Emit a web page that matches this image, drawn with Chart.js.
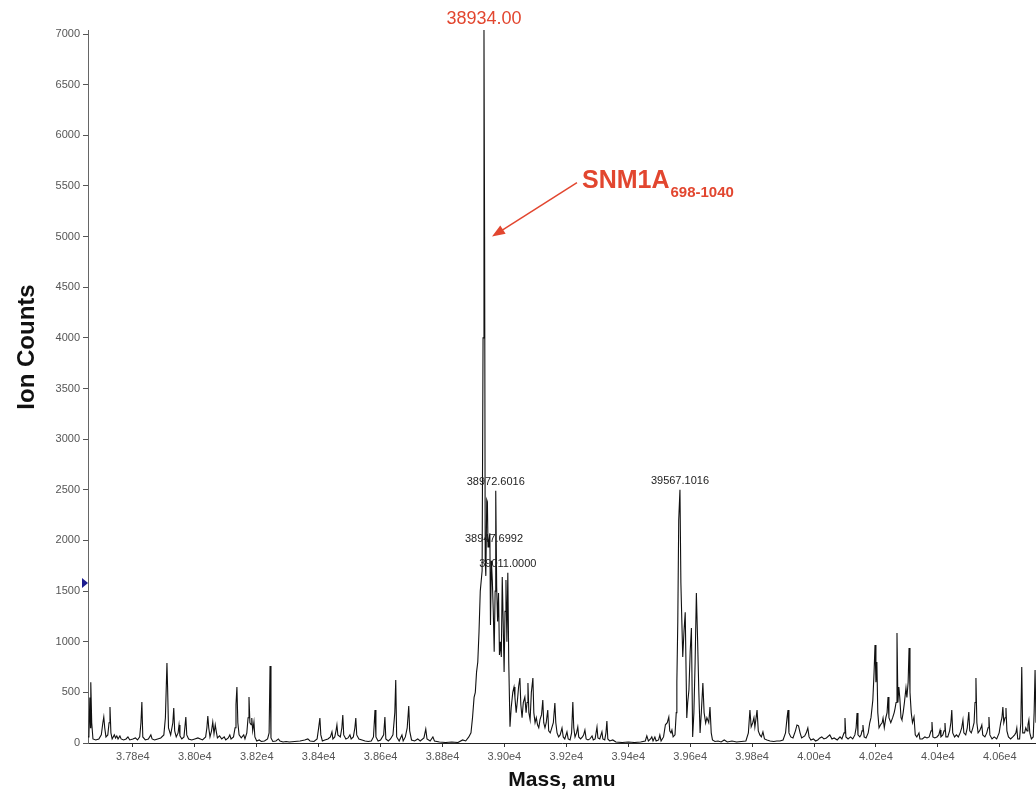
<!DOCTYPE html>
<html>
<head>
<meta charset="utf-8">
<title>SNM1A mass spectrum</title>
<script src="https://cdn.jsdelivr.net/npm/chart.js@4.4.1/dist/chart.umd.min.js"></script>
<style>
  html, body { margin: 0; padding: 0; background: #fff; }
</style>
</head>
<body>
<canvas id="chart" width="1036" height="794"></canvas>
<script>
// reconstructed spectrum, [mass (amu), ion counts]
const spectrum = [
  [37655,60],[37658,80],[37661,450],[37663,150],[37664,600],[37667,200],[37671,40],[37680,30],[37690,40],[37698,80],
  [37703,200],[37706,257],[37709,150],[37713,60],[37719,80],[37723,200],[37726,355],[37729,100],[37733,40],[37740,80],
  [37744,50],[37748,70],[37752,40],[37758,70],[37762,40],[37770,30],[37778,40],[37784,60],[37790,30],[37800,40],
  [37808,50],[37815,30],[37822,60],[37826,200],[37829,405],[37832,60],[37840,30],[37850,40],[37858,80],[37862,40],
  [37870,30],[37880,40],[37890,50],[37900,80],[37905,250],[37910,790],[37912,560],[37915,150],[37922,80],[37929,200],
  [37932,345],[37935,120],[37940,60],[37946,100],[37949,178],[37952,70],[37958,40],[37965,60],[37971,257],[37974,80],
  [37980,40],[37990,30],[38000,40],[38010,50],[38018,40],[38025,30],[38035,60],[38039,150],[38042,267],[38045,150],
  [38049,60],[38054,120],[38058,207],[38062,90],[38066,180],[38069,120],[38073,50],[38080,70],[38087,40],[38095,60],
  [38100,30],[38108,50],[38113,80],[38117,40],[38125,60],[38130,150],[38133,380],[38136,553],[38139,200],[38143,80],
  [38150,50],[38158,80],[38162,40],[38168,100],[38172,250],[38175,454],[38178,200],[38182,180],[38184,247],[38187,120],
  [38191,207],[38194,60],[38200,20],[38208,30],[38215,15],[38225,20],[38235,40],[38240,100],[38243,760],[38246,50],
  [38252,15],[38262,20],[38270,40],[38275,20],[38285,10],[38295,15],[38305,10],[38340,20],[38355,30],[38365,40],
  [38372,20],[38385,15],[38395,40],[38400,150],[38404,247],[38407,80],[38412,20],[38420,30],[38430,40],[38438,60],
  [38443,110],[38446,40],[38452,60],[38456,120],[38459,178],[38462,80],[38470,60],[38475,150],[38478,276],[38481,80],
  [38488,40],[38495,50],[38501,80],[38505,40],[38512,60],[38517,150],[38520,247],[38523,80],[38530,40],[38540,30],
  [38550,20],[38560,15],[38570,20],[38577,60],[38582,326],[38585,60],[38592,20],[38600,30],[38610,80],[38614,257],
  [38617,40],[38625,20],[38632,40],[38640,80],[38646,300],[38649,622],[38652,60],[38660,20],[38669,80],[38673,20],
  [38680,60],[38686,150],[38691,365],[38694,120],[38700,30],[38710,20],[38720,40],[38728,20],[38740,50],[38746,138],
  [38750,40],[38760,20],[38769,60],[38774,20],[38790,10],[38810,5],[38830,10],[38850,5],[38865,30],[38875,20],
  [38885,60],[38892,100],[38897,250],[38902,450],[38906,500],[38910,700],[38914,800],[38918,1100],[38922,1500],[38925,1600],
  [38928,1700],[38931,4000],[38934,7040],[38936,5000],[38938,1800],[38940,1650],[38943,2400],[38945,2380],[38947,1935],[38950,2000],
  [38953,2070],[38955,1165],[38958,1800],[38961,1600],[38964,1300],[38967,900],[38970,1500],[38972,2490],[38975,1540],[38978,1200],
  [38981,1480],[38984,870],[38987,1000],[38990,850],[38993,1640],[38996,1200],[38999,700],[39002,1300],[39005,1610],[39008,1000],
  [39011,1680],[39014,800],[39018,160],[39022,350],[39027,500],[39031,553],[39034,450],[39038,300],[39042,420],[39046,560],
  [39050,641],[39053,380],[39057,250],[39061,400],[39066,454],[39070,300],[39073,400],[39076,592],[39079,300],[39083,230],
  [39087,500],[39092,641],[39095,300],[39099,200],[39103,250],[39107,180],[39111,150],[39115,230],[39120,280],[39124,424],
  [39127,200],[39131,150],[39135,200],[39140,326],[39143,120],[39148,100],[39153,150],[39158,200],[39163,395],[39166,200],
  [39170,100],[39175,60],[39180,80],[39186,148],[39190,60],[39195,40],[39202,110],[39206,40],[39212,30],[39217,100],
  [39221,405],[39224,150],[39228,60],[39233,100],[39237,158],[39240,60],[39246,40],[39252,60],[39256,80],[39260,128],
  [39264,40],[39270,30],[39276,40],[39283,70],[39287,30],[39293,40],[39299,158],[39302,50],[39308,40],[39315,110],
  [39318,40],[39324,30],[39328,100],[39331,217],[39334,40],[39340,20],[39350,30],[39360,10],[39380,5],[39400,10],
  [39420,5],[39440,10],[39455,20],[39460,70],[39465,20],[39472,40],[39476,60],[39480,20],[39486,60],[39490,20],
  [39498,30],[39502,80],[39506,20],[39514,60],[39520,180],[39526,200],[39531,257],[39534,120],[39538,100],[39541,128],
  [39545,60],[39551,80],[39555,300],[39557,600],[39560,1200],[39563,2200],[39567,2500],[39570,1580],[39573,1215],[39576,850],
  [39580,1100],[39584,1290],[39589,247],[39592,400],[39596,523],[39600,900],[39604,1135],[39608,60],[39612,300],[39616,800],
  [39620,1480],[39624,1015],[39628,500],[39632,100],[39636,300],[39641,592],[39645,300],[39650,197],[39654,250],[39660,200],
  [39664,355],[39668,100],[39672,30],[39680,15],[39690,20],[39700,10],[39710,30],[39720,10],[39735,20],[39750,10],
  [39765,15],[39780,20],[39788,100],[39793,326],[39797,160],[39802,200],[39806,250],[39809,158],[39813,250],[39816,326],
  [39820,120],[39825,80],[39830,60],[39835,110],[39840,40],[39848,30],[39858,20],[39870,15],[39880,20],[39890,20],
  [39900,30],[39908,100],[39913,250],[39916,326],[39919,100],[39925,60],[39932,50],[39940,120],[39945,178],[39950,170],
  [39955,100],[39960,50],[39970,70],[39975,100],[39980,148],[39984,60],[39990,30],[39998,40],[40005,20],[40012,30],
  [40019,50],[40025,60],[40032,40],[40040,50],[40051,80],[40058,40],[40065,50],[40075,30],[40084,60],[40090,40],
  [40097,100],[40100,247],[40103,60],[40110,40],[40118,60],[40125,40],[40132,80],[40136,150],[40139,296],[40142,80],
  [40148,60],[40152,80],[40155,120],[40158,178],[40162,60],[40168,50],[40175,100],[40180,200],[40184,250],[40190,424],
  [40194,700],[40197,967],[40200,600],[40203,800],[40206,300],[40210,150],[40215,180],[40220,200],[40223,247],[40227,150],
  [40232,250],[40236,300],[40239,454],[40242,250],[40248,200],[40254,250],[40259,300],[40262,345],[40265,400],[40268,1085],
  [40271,400],[40274,553],[40277,450],[40281,250],[40284,227],[40288,300],[40292,400],[40297,543],[40300,450],[40304,600],
  [40307,937],[40310,500],[40314,300],[40318,200],[40323,257],[40327,80],[40332,60],[40339,100],[40342,40],[40350,40],
  [40358,60],[40365,50],[40372,60],[40378,120],[40381,207],[40384,60],[40390,50],[40397,60],[40403,80],[40407,128],
  [40410,60],[40416,80],[40420,120],[40423,197],[40426,60],[40432,60],[40438,120],[40442,200],[40445,326],[40448,100],
  [40454,60],[40460,80],[40466,60],[40472,100],[40477,150],[40481,227],[40484,100],[40490,80],[40495,150],[40500,306],
  [40503,120],[40508,100],[40513,150],[40517,200],[40520,400],[40523,641],[40526,200],[40530,100],[40535,120],[40539,150],
  [40542,178],[40545,80],[40552,60],[40558,100],[40562,150],[40565,257],[40568,80],[40575,40],[40582,60],[40590,40],
  [40598,100],[40603,200],[40607,250],[40610,355],[40613,200],[40617,250],[40620,345],[40623,120],[40628,60],[40635,40],
  [40642,60],[40648,80],[40652,100],[40655,148],[40658,40],[40664,40],[40668,200],[40671,750],[40674,100],[40680,100],
  [40684,150],[40688,120],[40691,180],[40694,227],[40697,100],[40702,40],[40708,60],[40711,300],[40714,720],[40717,200]
];

const massRange = [37655, 40717];
const countRange = [0, 7040];
const massTicks = [37800, 38000, 38200, 38400, 38600, 38800, 39000, 39200, 39400, 39600, 39800, 40000, 40200, 40400, 40600];
const countTicks = [0, 500, 1000, 1500, 2000, 2500, 3000, 3500, 4000, 4500, 5000, 5500, 6000, 6500, 7000];

// labelled peaks
const peakMasses = [38934, 38947, 38972, 39011, 39567];
const peakTexts = ["38934.00", "38947.6992", "38972.6016", "39011.0000", "39567.1016"];

const proteinName = "SNM1A";
const proteinRange = "698-1040";
const arrowCount = 5000;   // arrow points at the main peak here
const markerCount = 1580;  // blue marker on the y axis

const FONT = '"Liberation Sans", Arial, Helvetica, sans-serif';
const RED = "#e2462f";

function countAt(mass) {
  const p = spectrum.find(d => d[0] === mass);
  return p ? p[1] : 0;
}

const annotations = {
  id: "annotations",
  afterDraw(chart) {
    const { ctx, chartArea } = chart;
    const xs = chart.scales.x;
    const ys = chart.scales.y;
    ctx.save();

    // y axis title
    ctx.save();
    ctx.translate(27, 347);
    ctx.rotate(-Math.PI / 2);
    ctx.font = "bold 24px " + FONT;
    ctx.fillStyle = "#111";
    ctx.textAlign = "center";
    ctx.textBaseline = "middle";
    ctx.fillText("Ion Counts", 0, 0);
    ctx.restore();

    // peak labels
    ctx.textAlign = "center";
    ctx.textBaseline = "bottom";
    peakMasses.forEach((m, i) => {
      const x = xs.getPixelForValue(m);
      const y = ys.getPixelForValue(countAt(m));
      if (i === 0) {
        ctx.font = "18px " + FONT;
        ctx.fillStyle = RED;
        ctx.fillText(peakTexts[i], x, y - 2);
      } else {
        ctx.font = "11px " + FONT;
        ctx.fillStyle = "#222";
        ctx.fillText(peakTexts[i], x + (i === 1 ? 6 : 0), y - 3);
      }
    });

    // arrow to main peak
    const tipX = xs.getPixelForValue(peakMasses[0]) + 8;
    const tipY = ys.getPixelForValue(arrowCount);
    const tailX = tipX + 85, tailY = tipY - 54;
    const ang = Math.atan2(tipY - tailY, tipX - tailX);
    ctx.strokeStyle = RED;
    ctx.fillStyle = RED;
    ctx.lineWidth = 1.5;
    ctx.beginPath();
    ctx.moveTo(tailX, tailY);
    ctx.lineTo(tipX - 8 * Math.cos(ang), tipY - 8 * Math.sin(ang));
    ctx.stroke();
    ctx.beginPath();
    ctx.moveTo(tipX, tipY);
    ctx.lineTo(tipX - 13 * Math.cos(ang) + 5 * Math.sin(ang), tipY - 13 * Math.sin(ang) - 5 * Math.cos(ang));
    ctx.lineTo(tipX - 13 * Math.cos(ang) - 5 * Math.sin(ang), tipY - 13 * Math.sin(ang) + 5 * Math.cos(ang));
    ctx.closePath();
    ctx.fill();

    ctx.textAlign = "left";
    ctx.textBaseline = "alphabetic";
    ctx.font = "bold 25px " + FONT;
    ctx.fillText(proteinName, tailX + 5, tailY + 5);
    const w = ctx.measureText(proteinName).width;
    ctx.font = "bold 15px " + FONT;
    ctx.fillText(proteinRange, tailX + 5 + w + 1, tailY + 14);

    // blue marker on y axis
    const my = ys.getPixelForValue(markerCount);
    ctx.fillStyle = "#1c1c8f";
    ctx.beginPath();
    ctx.moveTo(chartArea.left - 6, my - 5);
    ctx.lineTo(chartArea.left, my);
    ctx.lineTo(chartArea.left - 6, my + 5);
    ctx.closePath();
    ctx.fill();

    ctx.restore();
  }
};

new Chart(document.getElementById("chart"), {
  type: "line",
  data: {
    datasets: [{
      data: spectrum.map(d => ({ x: d[0], y: d[1] })),
      borderColor: "#111",
      borderWidth: 1.1,
      pointRadius: 0,
      tension: 0,
      fill: false
    }]
  },
  options: {
    responsive: false,
    animation: false,
    layout: { padding: { top: 30, left: 0, right: 0, bottom: 0 } },
    plugins: { legend: { display: false }, tooltip: { enabled: false } },
    scales: {
      x: {
        type: "linear",
        min: massRange[0],
        max: massRange[1],
        afterBuildTicks: s => { s.ticks = massTicks.map(v => ({ value: v })); },
        afterFit: s => { s.height = 51; },
        ticks: {
          callback: v => (v / 1e4).toFixed(2) + "e4",
          font: { family: FONT, size: 11 },
          color: "#555",
          maxRotation: 0,
          autoSkip: false,
          padding: 3
        },
        grid: { drawOnChartArea: false, tickLength: 4, color: "#333" },
        border: { color: "#222", width: 1 },
        title: {
          display: true,
          text: "Mass, amu",
          font: { family: FONT, size: 21, weight: "bold" },
          color: "#111",
          padding: { top: 0, bottom: 1 }
        }
      },
      y: {
        min: countRange[0],
        max: countRange[1],
        afterBuildTicks: s => { s.ticks = countTicks.map(v => ({ value: v })); },
        afterFit: s => { s.width = 88; },
        ticks: {
          callback: v => String(v),
          font: { family: FONT, size: 11 },
          color: "#555",
          padding: 3
        },
        grid: { drawOnChartArea: false, tickLength: 5, color: "#555" },
        border: { color: "#666", width: 1 }
      }
    }
  },
  plugins: [annotations]
});
</script>
</body>
</html>
